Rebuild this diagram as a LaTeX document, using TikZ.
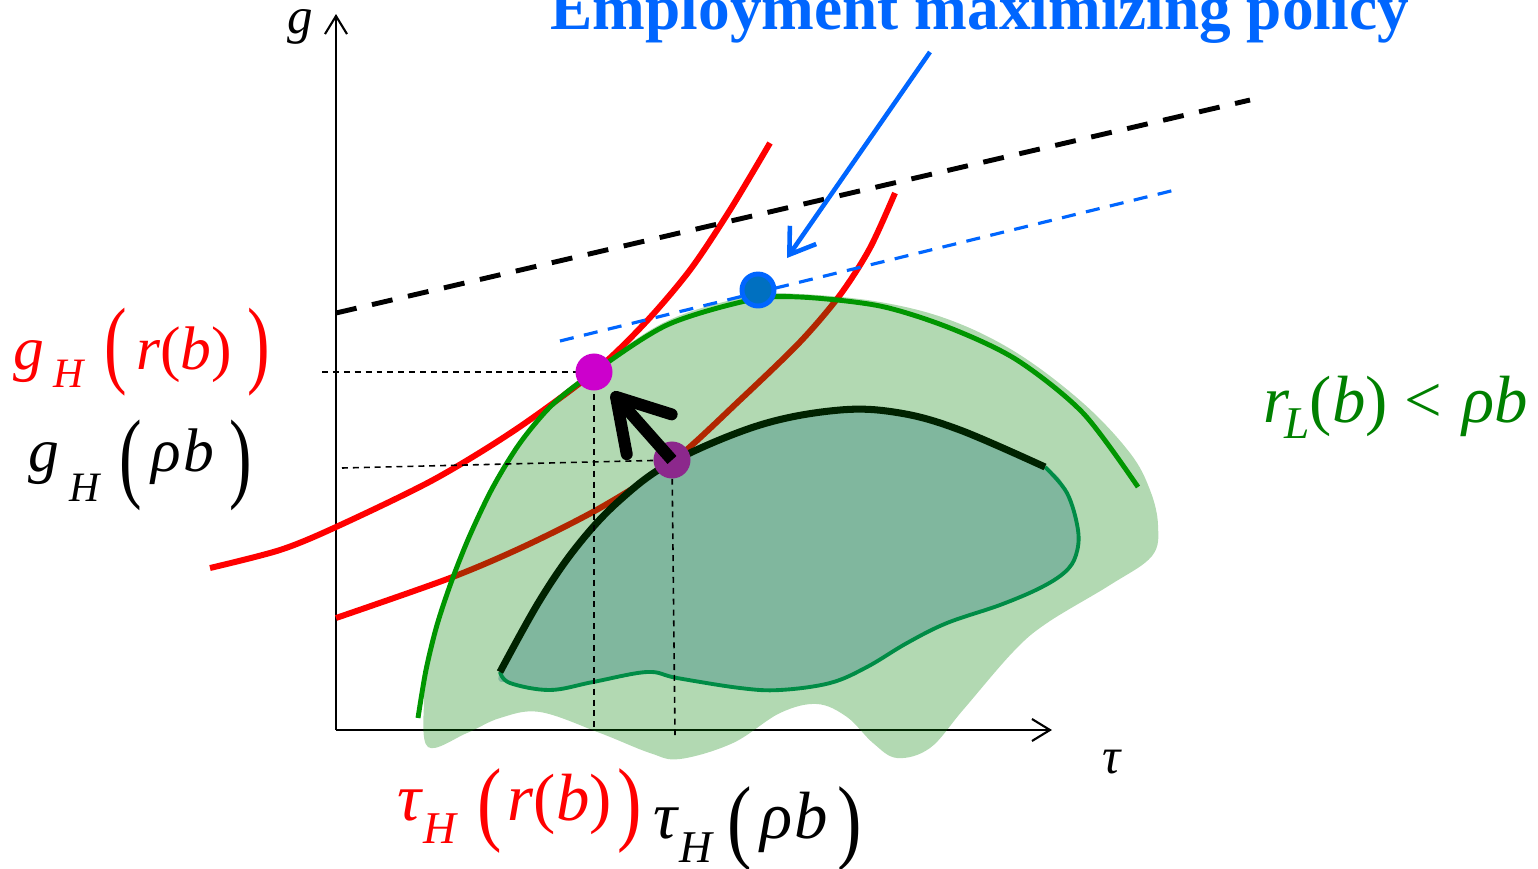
\documentclass[tikz,border=0pt]{standalone}
\usepackage{fontspec}
\setmainfont{Liberation Serif}
\usepackage{graphicx}
\usetikzlibrary{arrows.meta}
\definecolor{polblue}{RGB}{0,102,255}
\definecolor{dotblue}{RGB}{0,112,192}
\definecolor{setgreen}{RGB}{0,150,0}
\definecolor{shadegreen}{RGB}{0,128,0}
\definecolor{innerfill}{RGB}{128,183,158}
\definecolor{inneredge}{RGB}{0,140,70}
\definecolor{frontier}{RGB}{0,34,0}
\definecolor{pinkdot}{RGB}{204,0,204}
\definecolor{purpledot}{RGB}{140,40,140}
% tall delimiters: #1 = vertical stretch, #2 = drop below baseline
\newcommand{\lp}[2]{\raisebox{-#2}{\scalebox{1.1}[#1]{(}}}
\newcommand{\rp}[2]{\raisebox{-#2}{\scalebox{1.1}[#1]{)}}}
\newcommand{\subsc}[2]{\raisebox{-#1}{\scalebox{0.68}{\textit{#2}}}}

\begin{document}
\begin{tikzpicture}[x=0.01cm,y=-0.01cm,line join=round,
  axis/.style={line width=0.6pt,-{Straight Barb[length=0.18cm,width=0.22cm]}},
  redcurve/.style={red,line width=1.7pt},
  guide/.style={line width=0.45pt,dash pattern=on 1.7pt off 1.4pt},
  dot/.style={circle,inner sep=0pt,minimum size=0.37cm},
  lbl/.style={inner sep=0pt,anchor=base west,font=\fontsize{17.5}{20}\selectfont}]
  \useasboundingbox (0,0) rectangle (1538,869);
  \coordinate (O) at (336,730); \coordinate (gtop) at (336,14); \coordinate (tright) at (1052,730);
  \coordinate (R) at (594,372); \coordinate (Rho) at (672,460);
  % axes
  \draw[axis] (O) -- (gtop);
  \draw[axis] (O) -- (tright);
  % iso curves
  \draw[redcurve] plot[smooth] coordinates {(210,568) (280,550) (336,527) (433,480) (515,430) (594,372) (645,323) (690,270) (730,210) (770,143)};
  \draw[redcurve] plot[smooth] coordinates {(336,618) (450,578) (525,546) (600,508) (672,462) (740,400) (800,342) (840,295) (870,248) (895,193)};
  % feasible set
  \fill[shadegreen,fill opacity=0.3] plot[smooth cycle,tension=0.6] coordinates {(428,747) (424,700) (428,660) (437,625) (452,580) (470,535) (493,487) (520,443) (552,405) (594,370) (667,321) (750,296) (800,294) (880,302) (950,320) (1017,353) (1083,403) (1130,453) (1150,490) (1158,525) (1152,556) (1110,585) (1047,623) (1013,652) (963,710) (930,748) (897,758) (873,743) (847,717) (817,704) (780,713) (733,743) (680,759) (650,753) (600,733) (540,712) (500,718) (467,733)};
  \fill[innerfill] plot[smooth cycle,tension=0.6] coordinates {(500,672) (540,600) (578,545) (620,500) (672,462) (760,425) (840,410) (900,413) (960,430) (1045,467) (1067,493) (1078,530) (1076,555) (1065,572) (1040,588) (1000,605) (947,623) (907,643) (867,667) (830,683) (780,690) (740,688) (677,678) (647,672) (593,682) (550,690) (510,683)};
  \draw[inneredge,line width=1.1pt] plot[smooth,tension=0.6] coordinates {(1045,467) (1067,493) (1078,530) (1076,555) (1065,572) (1040,588) (1000,605) (947,623) (907,643) (867,667) (830,683) (780,690) (740,688) (677,678) (647,672) (593,682) (550,690) (510,683) (500,672)};
  \draw[frontier,line width=2pt] plot[smooth,tension=0.6] coordinates {(500,672) (540,600) (578,545) (620,500) (672,462) (760,425) (840,410) (900,413) (960,430) (1045,467)};
  \draw[setgreen,line width=1.4pt] plot[smooth] coordinates {(418,718) (426,670) (437,625) (452,580) (470,535) (493,487) (520,443) (552,405) (594,372) (667,325) (750,300) (800,297) (880,306) (950,328) (1017,360) (1083,413) (1138,487)};
  % guides
  \coordinate (gR) at (322,372); \coordinate (tR) at (594,730);
  \coordinate (gRho) at (342,468); \coordinate (tRho) at (675,735);
  \draw[guide] (gR) -- (R) -- (tR);
  \draw[guide] (gRho) -- (Rho) -- (tRho);
  \coordinate (bl0) at (336,313); \coordinate (bl1) at (1250,100);
  \draw[line width=1.4pt,dash pattern=on 6pt off 4.5pt] (bl0) -- (bl1);
  \coordinate (bb0) at (560,341); \coordinate (bb1) at (1175,190);
  \draw[polblue,line width=0.9pt,dash pattern=on 4pt off 3pt] (bb0) -- (bb1);
  % points and arrows
  \node[dot,fill=purpledot] (pRho) at (Rho) {};
  \node[dot,fill=pinkdot] (pR) at (R) {};
  \node[dot,fill=dotblue,draw=polblue,line width=1.4pt,minimum size=0.32cm] (pTop) at (758,290) {};
  \draw[line width=3.4pt,-{Straight Barb[length=0.5cm,width=0.6cm,round]},shorten >=0.08cm] (pRho.center) -- (pR);
  \coordinate (arrTail) at (930,52); \coordinate (arrTip) at (787,258);
  \draw[polblue,line width=1.3pt,-{Straight Barb[length=0.24cm,width=0.32cm]}] (arrTail) -- (arrTip);
  % labels
  \node[lbl,polblue,font=\fontsize{18}{20}\selectfont\bfseries] (title) at (550,29) {Employment maximizing policy};
  \node[lbl,font=\fontsize{14.5}{16}\selectfont] (glab) at (287,33) {\textit{g}};
  \node[lbl,font=\fontsize{14.5}{16}\selectfont] (taulab) at (1102,773) {\textit{τ}};
  \node[lbl,red] (gHr) at (13,369) {\textit{g}\hspace{0.15em}\subsc{0.3em}{H}\hspace{0.3em}\lp{1.58}{0.1em}\hspace{0.15em}\textit{r}(\textit{b})\hspace{0.26em}\rp{1.58}{0.1em}};
  \node[lbl] (gHrho) at (28,471) {\textit{g}\hspace{0.16em}\subsc{0.49em}{H}\hspace{0.3em}\lp{1.63}{0.3em}\hspace{0.15em}\textit{ρ\hspace{0.03em}b}\hspace{0.25em}\rp{1.63}{0.3em}};
  \node[lbl,red,font=\fontsize{19}{21}\selectfont] (tHr) at (397,820) {\textit{τ}\subsc{0.35em}{H}\hspace{0.29em}\lp{1.4}{0.2em}\hspace{0.08em}\textit{r}(\textit{b})\hspace{0.09em}\rp{1.4}{0.2em}};
  \node[lbl,font=\fontsize{19}{21}\selectfont] (tHrho) at (653,838) {\textit{τ}\subsc{0.36em}{H}\hspace{0.2em}\lp{1.4}{0.2em}\hspace{0.12em}\textit{ρ\hspace{0.03em}b}\hspace{0.14em}\rp{1.4}{0.2em}};
  \node[lbl,shadegreen,font=\fontsize{19}{21}\selectfont] (rLb) at (1263,422) {\textit{r}\hspace{-0.08em}\subsc{0.25em}{L}(\textit{b})\hspace{0.25em}<\hspace{0.3em}\textit{ρb}};
\end{tikzpicture}
\end{document}
